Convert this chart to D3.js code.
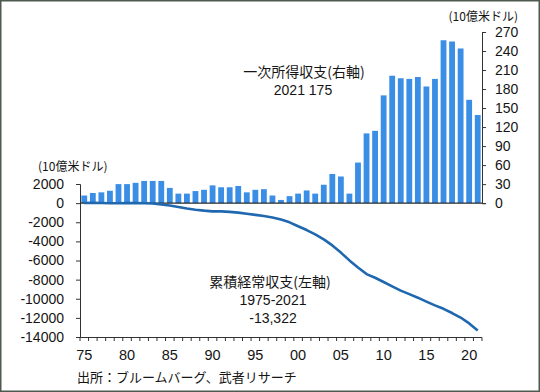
<!DOCTYPE html>
<html><head><meta charset="utf-8">
<script src="https://cdn.jsdelivr.net/npm/d3@7"></script>
<style>body{margin:0;background:#fff}svg{display:block}</style>
</head><body>
<svg id="c" width="540" height="392"></svg>
<script>
const years = [1975,1976,1977,1978,1979,1980,1981,1982,1983,1984,1985,1986,1987,1988,1989,1990,1991,1992,1993,1994,1995,1996,1997,1998,1999,2000,2001,2002,2003,2004,2005,2006,2007,2008,2009,2010,2011,2012,2013,2014,2015,2016,2017,2018,2019,2020,2021];
// 一次所得収支 (10億米ドル, right axis)
const primaryIncome = [12,16,17,19.5,30,30,32,35,35,35,24,15,15,19,21,28,25,25,27,17,21,22,12,5,11,15,20,15,29,46,42,15,64,110,114,170,201,197,196,199,184,196,257,255,244,163,139];
// 累積経常収支 (10億米ドル, left axis)
const cumulativeCA = [18,22,8,-7,-7,-5,0,-6,-44,-138,-256,-403,-564,-685,-784,-863,-860,-912,-996,-1117,-1230,-1355,-1496,-1711,-2007,-2417,-2814,-3272,-3793,-4424,-5173,-5989,-6725,-7421,-7805,-8246,-8706,-9152,-9518,-9888,-10296,-10693,-11054,-11493,-11965,-12581,-13322];
const leftTicks = [-14000,-12000,-10000,-8000,-6000,-4000,-2000,0,2000];
const rightTicks = [0,30,60,90,120,150,180,210,240,270];
const xLabelYears = [1975,1980,1985,1990,1995,2000,2005,2010,2015,2020];
const xLabels = ["75","80","85","90","95","00","05","10","15","20"];

const svg = d3.select("#c");
const latin = "'Liberation Sans', Arial, sans-serif";
const cjk = "'Noto Sans CJK JP', 'Noto Sans', sans-serif";
const txt = "#151515";

svg.append("rect").attr("x",0.75).attr("y",0.75).attr("width",538.5).attr("height",390.5)
  .attr("fill","#fff").attr("stroke","#4d5a4d").attr("stroke-width",1.5);

const x = d3.scaleBand().domain(years).range([80, 482]).paddingInner(0.32).paddingOuter(0.16);
const yL = d3.scaleLinear().domain([-14000, 2000]).range([337, 184]);
const yR = d3.scaleLinear().domain([0, 270]).range([yL(0), 32]);

// bars
svg.append("g").selectAll("rect").data(years).join("rect")
  .attr("x", d => x(d)).attr("width", x.bandwidth())
  .attr("y", (d,i) => yR(primaryIncome[i]))
  .attr("height", (d,i) => yR(0) - yR(primaryIncome[i]))
  .attr("fill", "#3a8ee6");

// zero line
svg.append("line").attr("x1",80).attr("x2",482).attr("y1",yL(0)).attr("y2",yL(0))
  .attr("stroke","#2b2b2b").attr("stroke-width",1.2);

// cumulative line
const line = d3.line().x((d,i) => x(years[i]) + x.bandwidth()/2).y(d => yL(d));
svg.append("path").datum(cumulativeCA).attr("d", line)
  .attr("fill","none").attr("stroke","#1f68b0").attr("stroke-width",2.6).attr("stroke-linejoin","round");

// left axis
const gL = svg.append("g").attr("transform","translate(80,0)")
  .call(d3.axisLeft(yL).tickValues(leftTicks).tickSize(4).tickPadding(12).tickFormat(d => String(d)));
// right axis
const gR = svg.append("g").attr("transform","translate(482,0)")
  .call(d3.axisRight(yR).tickValues(rightTicks).tickSize(4).tickPadding(9).tickFormat(d => String(d)));
[gL, gR].forEach(g => {
  g.select(".domain").attr("stroke","#333").attr("stroke-width",1);
  g.selectAll(".tick line").attr("stroke","#333");
  g.selectAll(".tick text").attr("fill",txt).style("font-family",latin).style("font-size","14px");
});

// x axis
const step = x.step();
const boundary = d => x(d) - step * x.paddingInner() / 2;
const gX = svg.append("g");
gX.append("line").attr("x1",80).attr("x2",482).attr("y1",337.5).attr("y2",337.5).attr("stroke","#333");
gX.selectAll("line.t").data(years.concat([2022])).join("line").attr("class","t")
  .attr("x1", d => d === 2022 ? 482 : boundary(d)).attr("x2", d => d === 2022 ? 482 : boundary(d))
  .attr("y1",337.5).attr("y2",341).attr("stroke","#333");
gX.selectAll("text").data(xLabelYears).join("text")
  .attr("x", d => x(d) + x.bandwidth()/2).attr("y", 360)
  .attr("text-anchor","middle").attr("fill",txt)
  .style("font-family",latin).style("font-size","14.5px")
  .text((d,i) => xLabels[i]);

// texts
function t(s, xx, yy, size, anchor, fam) {
  svg.append("text").attr("x",xx).attr("y",yy).attr("text-anchor",anchor||"start")
    .attr("fill",txt).style("font-family",fam||cjk).style("font-size",size+"px").text(s);
}
t("(10億米ドル)", 518, 21, 12, "end");
t("(10億米ドル)", 38, 171, 12, "start");
t("一次所得収支(右軸)", 304, 77, 14, "middle");
t("2021 175", 303, 95, 14, "middle", latin);
t("累積経常収支(左軸)", 270, 287, 14, "middle");
t("1975-2021", 273, 305, 14, "middle", latin);
t("-13,322", 273, 323, 14, "middle", latin);
t("出所：ブルームバーグ、武者リサーチ", 77, 382, 13, "start");
</script>
</body></html>
